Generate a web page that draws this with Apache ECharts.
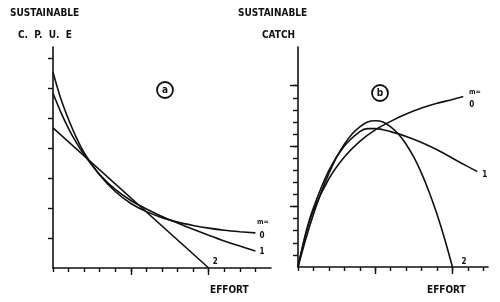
<!DOCTYPE html>
<html>
<head>
<meta charset="utf-8">
<script src="https://cdn.jsdelivr.net/npm/echarts@6/dist/echarts.min.js"></script>
<style>
  html, body { margin: 0; padding: 0; background: #fff; }
  #chart { width: 500px; height: 302px; }
</style>
</head>
<body>
<div id="chart"></div>
<script>
// panel (a): sustainable CPUE vs effort
var effortA = [0, 0.5, 1, 1.5, 2, 3, 4, 5, 6, 7, 8, 9, 10, 11, 12, 13];
var cpueM0 = [6.53, 5.65, 4.95, 4.35, 3.85, 3.1, 2.55, 2.15, 1.88, 1.68, 1.53, 1.42, 1.33, 1.26, 1.21, 1.17];
var cpueM1 = [5.83, 5.2, 4.65, 4.18, 3.78, 3.12, 2.62, 2.25, 1.97, 1.72, 1.5, 1.29, 1.09, 0.9, 0.73, 0.57];
var effortA2 = [0, 10];
var cpueM2 = [4.67, 0];

// panel (b): sustainable catch vs effort
var effortB0 = [0, 0.5, 1, 2, 3, 4, 5, 6, 7, 8, 9, 10, 10.7];
var catchM0 = [0, 2.7, 4.7, 7.3, 9.1, 10.4, 11.35, 12.05, 12.65, 13.15, 13.55, 13.85, 14.1];
var effortB1 = [0, 0.5, 1, 2, 3, 4, 4.5, 5, 6, 7, 8, 9, 10, 11, 11.6];
var catchM1 = [0, 2.8, 4.9, 8.0, 10.0, 11.2, 11.45, 11.45, 11.2, 10.8, 10.3, 9.7, 9.0, 8.3, 7.9];
var effortB2 = [0, 0.5, 1, 1.5, 2, 2.5, 3, 3.5, 4, 4.5, 5, 5.5, 6, 6.5, 7, 7.5, 8, 8.5, 9, 9.5, 10];
var catchM2 = [0, 2.3, 4.36, 6.17, 7.74, 9.08, 10.16, 11.01, 11.6, 12.0, 12.1, 12.0, 11.6, 11.01, 10.16, 9.08, 7.74, 6.17, 4.36, 2.3, 0];

var ticksAx = [0, 1, 2, 3, 4, 5, 6, 7, 8, 9, 10, 11, 12, 13];
var ticksAy = [1, 2, 3, 4, 5, 6, 7];
var ticksBx = [0, 1, 2, 3, 4, 5, 6, 7, 8, 9, 10, 11, 12];
var ticksBy = [1, 2, 3, 4, 5, 6, 7, 8, 9, 10, 11, 12, 13, 14, 15];
var majorX = [5, 10];
var majorBy = [5, 10, 15];

function pairs(xs, ys) {
    return xs.map(function (x, i) { return [x, ys[i]]; });
}

var font = "'DejaVu Sans Condensed', 'Liberation Sans Narrow', 'DejaVu Sans', sans-serif";
var ink = '#111';

function axis(grid, pos, min, max, ticks, len, showLine) {
    return {
        type: 'value', gridIndex: grid, position: pos, min: min, max: max,
        splitLine: {show: false},
        axisLabel: {show: false},
        axisLine: {show: showLine, onZero: false, lineStyle: {color: ink, width: 1.6}},
        axisTick: {show: true, customValues: ticks, length: len, lineStyle: {color: ink, width: 1.4}}
    };
}

function curve(name, x, y, xi, label, off, smooth) {
    return {
        name: name, type: 'line', xAxisIndex: xi, yAxisIndex: xi,
        data: pairs(x, y), smooth: smooth, symbol: 'none', silent: true,
        lineStyle: {color: ink, width: 1.6},
        endLabel: {show: true, formatter: label, offset: off, color: ink,
            fontSize: 8, fontWeight: 'bold', fontFamily: font}
    };
}

function txt(x, y, s, size) {
    return {type: 'text', left: x, top: y,
        style: {text: s, fill: ink, font: 'bold ' + size + 'px ' + font}};
}

var chart = echarts.init(document.getElementById('chart'));
chart.setOption({
    animation: false,
    grid: [
        {left: 53, top: 47, width: 218, bottom: 34},
        {left: 298, top: 47, width: 190, bottom: 35}
    ],
    xAxis: [
        axis(0, 'bottom', 0, 14, ticksAx, 4, true),
        axis(1, 'bottom', 0, 12.3, ticksBx, 4, true),
        axis(0, 'bottom', 0, 14, majorX, 7, false),
        axis(1, 'bottom', 0, 12.3, majorX, 7, false)
    ],
    yAxis: [
        axis(0, 'left', 0, 7.37, ticksAy, 5, true),
        axis(1, 'left', 0, 18.2, ticksBy, 5, true),
        axis(1, 'left', 0, 18.2, majorBy, 8, false)
    ],
    series: [
        curve('m0a', effortA, cpueM0, 0, '0', [-4, 3], 0.3),
        curve('m1a', effortA, cpueM1, 0, '1', [-4, 1], 0.3),
        curve('m2a', effortA2, cpueM2, 0, '2', [-4, -6], false),
        curve('m0b', effortB0, catchM0, 1, '0', [-2, 8], 0.3),
        curve('m1b', effortB1, catchM1, 1, '1', [-3, 3], 0.3),
        curve('m2b', effortB2, catchM2, 1, '2', [1, -5], 0.3)
    ],
    graphic: [
        txt(10, 8, 'SUSTAINABLE', 10),
        txt(18, 30, 'C.  P.  U.  E', 10),
        txt(238, 8, 'SUSTAINABLE', 10),
        txt(262, 30, 'CATCH', 10),
        txt(210, 285, 'EFFORT', 10),
        txt(427, 285, 'EFFORT', 10),
        txt(257, 219, 'm=', 7),
        txt(469, 89, 'm=', 7),
        {type: 'circle', shape: {cx: 165, cy: 90, r: 8},
            style: {fill: 'none', stroke: ink, lineWidth: 1.8}},
        {type: 'text', x: 165, y: 90,
            style: {text: 'a', fill: ink, font: 'bold 10px ' + font, align: 'center', verticalAlign: 'middle'}},
        {type: 'circle', shape: {cx: 380, cy: 93, r: 8},
            style: {fill: 'none', stroke: ink, lineWidth: 1.8}},
        {type: 'text', x: 380, y: 93,
            style: {text: 'b', fill: ink, font: 'bold 10px ' + font, align: 'center', verticalAlign: 'middle'}}
    ]
});
</script>
</body>
</html>
